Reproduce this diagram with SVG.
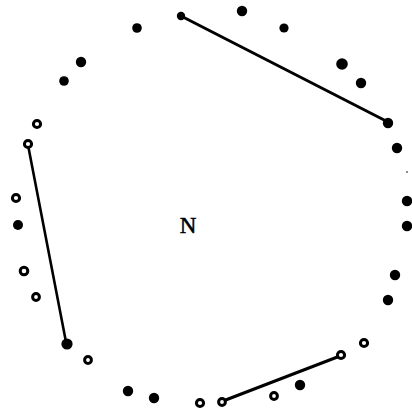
<svg xmlns="http://www.w3.org/2000/svg" width="412" height="418" viewBox="0 0 412 418">
<style>
.f{fill:#000}
.h{fill:#fff;stroke:#000;stroke-width:3}
.c{stroke:#000;stroke-linecap:round;fill:none}
.t{font-family:"Liberation Serif","DejaVu Serif",serif;font-size:23px;fill:#000;stroke:#000;stroke-width:0.5;text-anchor:middle}
</style>
<rect width="412" height="418" fill="#fff"/>
<g id="connectors">
<line class="c" x1="181" y1="16" x2="388" y2="122" stroke-width="3"/>
<line class="c" x1="28" y1="145" x2="66" y2="342" stroke-width="2.6"/>
<line class="c" x1="223" y1="401" x2="340" y2="356" stroke-width="3"/>
</g>
<g id="n1"><circle class="f" cx="137" cy="28" r="4.8"/></g>
<g id="n2"><circle class="f" cx="181" cy="16" r="4.2"/></g>
<g id="n3"><circle class="f" cx="242" cy="11" r="5.2"/></g>
<g id="n4"><circle class="f" cx="284" cy="28" r="4.6"/></g>
<g id="n5"><circle class="f" cx="342" cy="64" r="5.8"/></g>
<g id="n6"><circle class="f" cx="361" cy="83" r="5.2"/></g>
<g id="n7"><circle class="f" cx="388" cy="123" r="5.2"/></g>
<g id="n8"><circle class="f" cx="397" cy="148" r="5.2"/></g>
<g id="n9"><circle class="f" cx="407" cy="172" r="0.8"/></g>
<g id="n10"><circle class="f" cx="407" cy="201" r="5.2"/></g>
<g id="n11"><circle class="f" cx="407" cy="226" r="5.2"/></g>
<g id="n12"><circle class="f" cx="395" cy="275" r="5.2"/></g>
<g id="n13"><circle class="f" cx="388" cy="300" r="5.2"/></g>
<g id="n14"><circle class="h" cx="364" cy="343" r="3.6"/></g>
<g id="n15"><circle class="h" cx="341" cy="355" r="3.6"/></g>
<g id="n16"><circle class="f" cx="300" cy="385" r="5.2"/></g>
<g id="n17"><circle class="h" cx="274" cy="396" r="3.4"/></g>
<g id="n18"><circle class="h" cx="222" cy="402" r="3.4"/></g>
<g id="n19"><circle class="h" cx="200" cy="403" r="3.6"/></g>
<g id="n20"><circle class="f" cx="154" cy="398" r="5.2"/></g>
<g id="n21"><circle class="f" cx="128" cy="391" r="5.2"/></g>
<g id="n22"><circle class="h" cx="88" cy="360" r="3.4"/></g>
<g id="n23"><circle class="f" cx="67" cy="344" r="5.6"/></g>
<g id="n24"><circle class="h" cx="36" cy="297" r="3.4"/></g>
<g id="n25"><circle class="h" cx="24" cy="271" r="3.8"/></g>
<g id="n26"><circle class="f" cx="18" cy="225" r="5"/></g>
<g id="n27"><circle class="h" cx="16" cy="198" r="3.6"/></g>
<g id="n28"><circle class="h" cx="28" cy="144" r="3.6"/></g>
<g id="n29"><circle class="h" cx="37" cy="124" r="3.6"/></g>
<g id="n30"><circle class="f" cx="64" cy="81" r="4.8"/></g>
<g id="n31"><circle class="f" cx="81" cy="62" r="5.2"/></g>
<g id="center"><text class="t" x="188" y="233">N</text></g>
</svg>
